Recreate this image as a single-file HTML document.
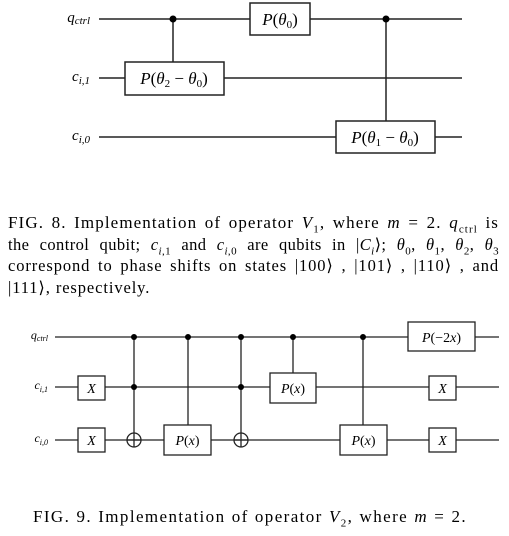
<!DOCTYPE html>
<html><head><meta charset="utf-8"><style>
body{margin:0;background:#fff;width:509px;height:536px;overflow:hidden;position:relative;font-family:"Liberation Serif",serif;color:#000}
svg{position:absolute;left:0;top:0}
.ln{position:absolute;left:8px;width:491px;font-size:16.5px;height:21px;line-height:21px;white-space:nowrap;text-align:justify;text-align-last:justify;letter-spacing:0.3px}
.ln sub{font-size:11px;line-height:0}
i{font-style:italic}
</style></head><body>
<svg width="509" height="536" font-family="Liberation Serif, serif">
<g stroke="#222" stroke-width="1.5" fill="none">
<line x1="99" y1="19" x2="462" y2="19"/><line x1="99" y1="78" x2="462" y2="78"/><line x1="99" y1="137" x2="462" y2="137"/>
<line x1="173" y1="19" x2="173" y2="62"/><line x1="386" y1="19" x2="386" y2="121"/>
<rect x="125" y="62" width="99" height="33" fill="#fff"/><rect x="250" y="3" width="60" height="32" fill="#fff"/><rect x="336" y="121" width="99" height="32" fill="#fff"/>
<circle cx="173" cy="19" r="3.5" fill="#000" stroke="none"/><circle cx="386" cy="19" r="3.5" fill="#000" stroke="none"/>
</g>
<g font-size="17" text-anchor="middle">
<text x="174" y="84"><tspan font-style="italic">P</tspan>(<tspan font-style="italic">θ</tspan><tspan font-size="11" dy="3">2</tspan><tspan dy="-3"> − </tspan><tspan font-style="italic">θ</tspan><tspan font-size="11" dy="3">0</tspan><tspan dy="-3">)</tspan></text>
<text x="280" y="25"><tspan font-style="italic">P</tspan>(<tspan font-style="italic">θ</tspan><tspan font-size="11" dy="3">0</tspan><tspan dy="-3">)</tspan></text>
<text x="385" y="143"><tspan font-style="italic">P</tspan>(<tspan font-style="italic">θ</tspan><tspan font-size="11" dy="3">1</tspan><tspan dy="-3"> − </tspan><tspan font-style="italic">θ</tspan><tspan font-size="11" dy="3">0</tspan><tspan dy="-3">)</tspan></text>
</g>
<g font-size="15" font-style="italic" text-anchor="end">
<text x="90" y="22">q<tspan font-size="11" dy="2">ctrl</tspan></text>
<text x="90" y="81">c<tspan font-size="11" dy="3">i,1</tspan></text>
<text x="90" y="140">c<tspan font-size="11" dy="3">i,0</tspan></text>
</g>
<g stroke="#222" stroke-width="1.3" fill="none">
<line x1="55" y1="337" x2="499" y2="337"/><line x1="55" y1="387" x2="499" y2="387"/><line x1="55" y1="440" x2="499" y2="440"/>
<line x1="134" y1="337" x2="134" y2="447"/><line x1="241" y1="337" x2="241" y2="447"/>
<line x1="188" y1="337" x2="188" y2="425"/><line x1="293" y1="337" x2="293" y2="373"/><line x1="363" y1="337" x2="363" y2="425"/>
<circle cx="134" cy="440" r="7"/><line x1="127" y1="440" x2="141" y2="440"/>
<circle cx="241" cy="440" r="7"/><line x1="234" y1="440" x2="248" y2="440"/>
<rect x="78" y="376" width="27" height="24" fill="#fff"/><rect x="78" y="428" width="27" height="24" fill="#fff"/>
<rect x="164" y="425" width="47" height="30" fill="#fff"/><rect x="270" y="373" width="46" height="30" fill="#fff"/><rect x="340" y="425" width="47" height="30" fill="#fff"/>
<rect x="408" y="322" width="67" height="29" fill="#fff"/>
<rect x="429" y="376" width="27" height="24" fill="#fff"/><rect x="429" y="428" width="27" height="24" fill="#fff"/>
<g fill="#000" stroke="none"><circle cx="134" cy="337" r="3"/><circle cx="134" cy="387" r="3"/><circle cx="188" cy="337" r="3"/><circle cx="241" cy="337" r="3"/><circle cx="241" cy="387" r="3"/><circle cx="293" cy="337" r="3"/><circle cx="363" cy="337" r="3"/></g>
</g>
<g font-size="14" text-anchor="middle">
<text x="91.5" y="393" font-style="italic">X</text><text x="91.5" y="445" font-style="italic">X</text>
<text x="442.5" y="393" font-style="italic">X</text><text x="442.5" y="445" font-style="italic">X</text>
<text x="187.5" y="445"><tspan font-style="italic">P</tspan>(<tspan font-style="italic">x</tspan>)</text>
<text x="293" y="393"><tspan font-style="italic">P</tspan>(<tspan font-style="italic">x</tspan>)</text>
<text x="363.5" y="445"><tspan font-style="italic">P</tspan>(<tspan font-style="italic">x</tspan>)</text>
<text x="441.5" y="342"><tspan font-style="italic">P</tspan>(−2<tspan font-style="italic">x</tspan>)</text>
</g>
<g font-size="12" font-style="italic" text-anchor="end">
<text x="48" y="339">q<tspan font-size="8" dy="2">ctrl</tspan></text>
<text x="48" y="389">c<tspan font-size="8" dy="3">i,1</tspan></text>
<text x="48" y="442">c<tspan font-size="8" dy="3">i,0</tspan></text>
</g>
</svg>
<div>
<div class="ln" style="top:212px;font-size:17px;letter-spacing:1.1px">FIG. 8. Implementation of operator <i>V</i><sub>1</sub>, where <i>m</i> = 2. <i>q</i><sub>ctrl</sub> is</div>
<div class="ln" style="top:233.5px;letter-spacing:0.4px">the control qubit; <i>c</i><sub><i>i</i>,1</sub> and <i>c</i><sub><i>i</i>,0</sub> are qubits in |<i>C<sub>i</sub></i>⟩; <i>θ</i><sub>0</sub>, <i>θ</i><sub>1</sub>, <i>θ</i><sub>2</sub>, <i>θ</i><sub>3</sub></div>
<div class="ln" style="top:255px;letter-spacing:0.9px">correspond to phase shifts on states |100⟩ , |101⟩ , |110⟩ , and</div>
<div class="ln" style="top:276.5px;text-align-last:left;letter-spacing:0.9px">|111⟩, respectively.</div>
</div>
<div class="ln" style="top:506px;left:33px;width:434px;font-size:17px;letter-spacing:1.4px">FIG. 9. Implementation of operator <i>V</i><sub>2</sub>, where <i>m</i> = 2.</div>
</body></html>
